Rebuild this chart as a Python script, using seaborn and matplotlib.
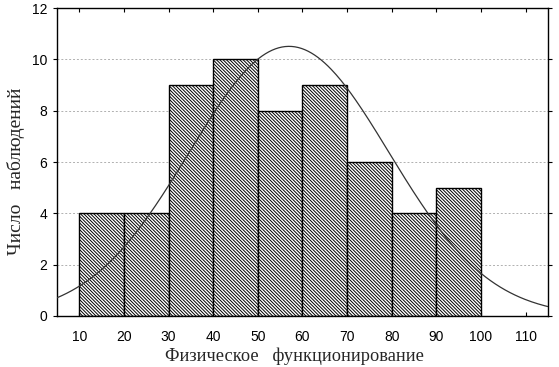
import numpy as np
import pandas as pd
import matplotlib
matplotlib.use("Agg")
import matplotlib.pyplot as plt
import seaborn as sns

# Интервалы и частоты
bin_edges = [10, 20, 30, 40, 50, 60, 70, 80, 90, 100]
counts = [4, 4, 9, 10, 8, 9, 6, 4, 5]

# Параметры нормальной кривой (оценка по рисунку)
curve_mean = 57.0
curve_sd = 22.4
n_obs = sum(counts)
bin_width = 10

x_ticks = [10, 20, 30, 40, 50, 60, 70, 80, 90, 100, 110]
y_ticks = [0, 2, 4, 6, 8, 10, 12]

df = pd.DataFrame({
    "mid": [(a + b) / 2 for a, b in zip(bin_edges[:-1], bin_edges[1:])],
    "count": counts
})

xs = np.linspace(5, 115, 300)
curve = pd.DataFrame({
    "x": xs,
    "y": n_obs * bin_width / (curve_sd * np.sqrt(2 * np.pi))
    * np.exp(-0.5 * ((xs - curve_mean) / curve_sd) ** 2)
})

sns.set_style("white")
plt.rcParams["hatch.linewidth"] = 0.7
plt.rcParams["hatch.color"] = "#222222"

fig = plt.figure(figsize=(5.59, 3.67), dpi=100)
ax = fig.add_axes([0.102, 0.139, 0.878, 0.839])

for y in y_ticks[1:-1]:
    ax.axhline(y, color="#b0b0b0", linestyle=(0, (2, 2)), linewidth=0.7, zorder=0)

sns.histplot(
    data=df, x="mid", weights="count", bins=bin_edges,
    color="white", edgecolor="black", linewidth=1.0, alpha=1,
    hatch="\\" * 10, ax=ax, zorder=2
)

sns.lineplot(data=curve, x="x", y="y", color="#333333", linewidth=0.9, ax=ax, zorder=3)

ax.set_xlim(5, 115)
ax.set_ylim(0, 12)
ax.set_xticks(x_ticks)
ax.set_yticks(y_ticks)

for s in ax.spines.values():
    s.set_color("black")
    s.set_linewidth(1.0)

ax.tick_params(axis="both", labelsize=10, colors="black", length=3, width=0.8)
ax.tick_params(axis="x", direction="in", top=True, bottom=True, pad=10)
ax.tick_params(axis="y", direction="out", left=True, pad=4)
ax.tick_params(axis="y", which="both", right=True)
for lbl in ax.get_xticklabels() + ax.get_yticklabels():
    lbl.set_family("Liberation Sans")

ax.set_xlabel("Физическое   функционирование", family="Liberation Serif", fontsize=13.2)
ax.set_ylabel("Число   наблюдений", family="Liberation Serif", fontsize=14)
ax.xaxis.set_label_coords(0.483, -0.103)
ax.yaxis.set_label_coords(-0.066, 0.47)

fig.savefig("out.png", dpi=100)
